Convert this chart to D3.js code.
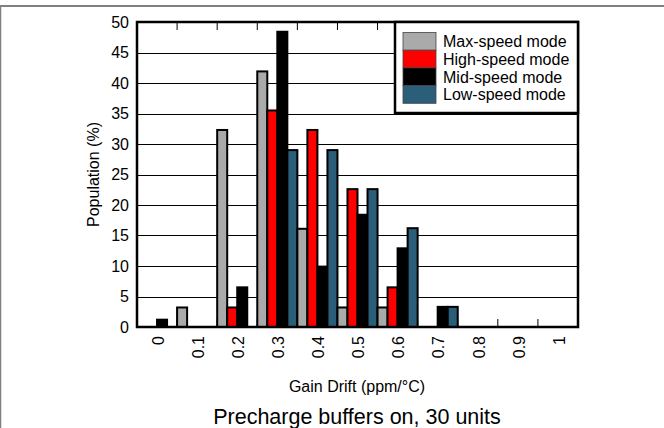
<!DOCTYPE html>
<html>
<head>
<meta charset="utf-8">
<script src="https://cdn.jsdelivr.net/npm/d3@7"></script>
<style>
  html, body { margin: 0; padding: 0; background: #fff; }
  svg { display: block; font-family: "Liberation Sans", Arial, sans-serif; }
</style>
</head>
<body>
<svg id="chart" width="664" height="428"></svg>
<script>
const categories = ["0", "0.1", "0.2", "0.3", "0.4", "0.5", "0.6", "0.7", "0.8", "0.9", "1"];
const seriesNames = ["Max-speed mode", "High-speed mode", "Mid-speed mode", "Low-speed mode"];
const seriesColors = ["#aaaaaa", "#ff0000", "#000000", "#2b5e78"];
const maxSpeed  = [0, 3.2, 32.3, 41.9, 16.1, 3.2, 3.2, 0, 0, 0, 0];
const highSpeed = [0, 0, 3.2, 35.5, 32.3, 22.6, 6.5, 0, 0, 0, 0];
const midSpeed  = [1.2, 0, 6.5, 48.4, 9.9, 18.4, 12.9, 3.3, 0, 0, 0];
const lowSpeed  = [0, 0, 0, 29.0, 29.0, 22.6, 16.2, 3.3, 0, 0, 0];
const yTicks = [0, 5, 10, 15, 20, 25, 30, 35, 40, 45, 50];
const xTitle = "Gain Drift (ppm/°C)";
const yTitle = "Population (%)";
const chartTitle = "Precharge buffers on, 30 units";

const series = [maxSpeed, highSpeed, midSpeed, lowSpeed];

const svg = d3.select("#chart");
const W = 664, H = 428;
const m = { left: 137, right: 578, top: 22, bottom: 327 };

// page frame lines
svg.append("line").attr("x1", 0).attr("x2", W).attr("y1", 6).attr("y2", 6)
  .attr("stroke", "#808080").attr("stroke-width", 2);
svg.append("line").attr("x1", 0.5).attr("x2", 0.5).attr("y1", 5).attr("y2", H)
  .attr("stroke", "#808080").attr("stroke-width", 1.5);

const x = d3.scaleBand().domain(categories).range([m.left, m.right]).padding(0);
const xs = d3.scaleBand().domain(d3.range(series.length)).range([0, x.bandwidth()]).padding(0);
const y = d3.scaleLinear().domain([0, 50]).range([m.bottom, m.top]);

// gridlines
svg.append("g").selectAll("line").data(yTicks.filter(t => t > 0 && t < 50)).join("line")
  .attr("x1", m.left).attr("x2", m.right)
  .attr("y1", d => Math.round(y(d)) + 0.5).attr("y2", d => Math.round(y(d)) + 0.5)
  .attr("stroke", "#000").attr("stroke-width", 1);

// boundary ticks (top and bottom, inward)
const bounds = categories.slice(1).map(c => x(c));
svg.append("g").selectAll("line").data(bounds).join("line")
  .attr("x1", d => d).attr("x2", d => d)
  .attr("y1", m.top).attr("y2", m.top + 8)
  .attr("stroke", "#000").attr("stroke-width", 1);
svg.append("g").selectAll("line").data(bounds).join("line")
  .attr("x1", d => d).attr("x2", d => d)
  .attr("y1", m.bottom).attr("y2", m.bottom - 8)
  .attr("stroke", "#000").attr("stroke-width", 1);

// bars
const barData = [];
categories.forEach((c, i) => {
  series.forEach((s, k) => barData.push({ c, k, v: s[i] }));
});
svg.append("g").selectAll("rect").data(barData).join("rect")
  .attr("x", d => x(d.c) + xs(d.k))
  .attr("width", xs.bandwidth())
  .attr("y", d => y(d.v))
  .attr("height", d => y(0) - y(d.v))
  .attr("fill", d => seriesColors[d.k])
  .attr("stroke", "#000").attr("stroke-width", 2);

// frame
svg.append("rect").attr("x", m.left).attr("y", m.top)
  .attr("width", m.right - m.left).attr("height", m.bottom - m.top)
  .attr("fill", "none").attr("stroke", "#000").attr("stroke-width", 2.5);

// y axis labels
svg.append("g").selectAll("text").data(yTicks).join("text")
  .attr("x", m.left - 8).attr("y", d => y(d)).attr("dy", "0.36em")
  .attr("text-anchor", "end").attr("font-size", 16).attr("fill", "#000")
  .text(d => d);

// x axis labels (rotated)
svg.append("g").selectAll("text").data(categories).join("text")
  .attr("transform", d => `translate(${x(d) + x.bandwidth() / 2 + 1},${m.bottom + 9}) rotate(-90)`)
  .attr("text-anchor", "end").attr("dy", "0.36em")
  .attr("font-size", 16).attr("fill", "#000")
  .text(d => d);

// axis titles
svg.append("text")
  .attr("transform", `translate(93,${(m.top + m.bottom) / 2}) rotate(-90)`)
  .attr("text-anchor", "middle").attr("dy", "0.36em")
  .attr("font-size", 16).text(yTitle);
svg.append("text")
  .attr("x", 357).attr("y", 392)
  .attr("text-anchor", "middle").attr("font-size", 16).text(xTitle);
svg.append("text")
  .attr("x", 357).attr("y", 424)
  .attr("text-anchor", "middle").attr("font-size", 21.5).text(chartTitle);

// legend
const lg = svg.append("g");
lg.append("rect").attr("x", 395).attr("y", m.top).attr("width", m.right - 395).attr("height", 91)
  .attr("fill", "#fff").attr("stroke", "#000").attr("stroke-width", 2.5);
const sw = 17.7;
seriesNames.forEach((n, k) => {
  lg.append("rect").attr("x", 403).attr("y", 32.5 + k * sw).attr("width", 33).attr("height", sw)
    .attr("fill", seriesColors[k]).attr("stroke", "#444").attr("stroke-width", 0.8);
  lg.append("text").attr("x", 443).attr("y", 32.5 + k * sw + sw / 2).attr("dy", "0.36em")
    .attr("font-size", 16).attr("fill", "#000").text(n);
});
</script>
</body>
</html>
